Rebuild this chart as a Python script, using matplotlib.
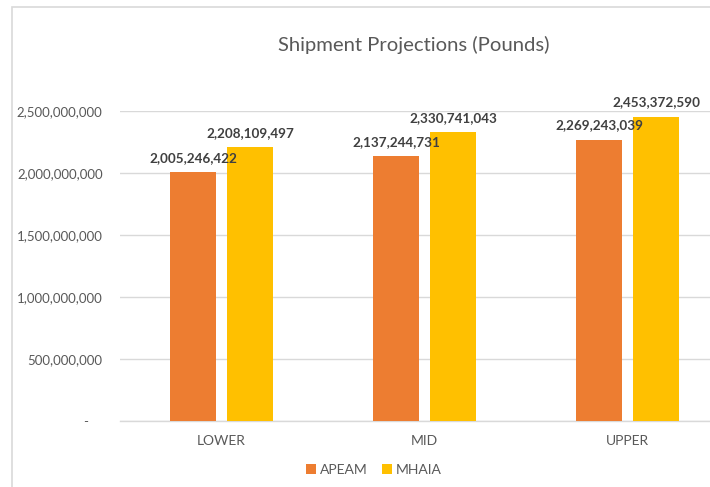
import matplotlib
matplotlib.use("Agg")
import matplotlib.pyplot as plt
from matplotlib.patches import Rectangle
from matplotlib.ticker import FuncFormatter

categories = ["LOWER", "MID", "UPPER"]
apeam = [2005246422, 2137244731, 2269243039]
mhaia = [2208109497, 2330741043, 2453372590]
series_names = ["APEAM", "MHAIA"]
yticks = [0, 500000000, 1000000000, 1500000000, 2000000000, 2500000000]

plt.rcParams['font.family'] = ['Lato', 'DejaVu Sans']

W, H = 710, 487
fig = plt.figure(figsize=(W / 100, H / 100), dpi=100)

# chart border (left & top visible)
fig.patches.append(Rectangle((12 / W, -0.1), 1.2, (H - 7) / H + 0.1,
                             transform=fig.transFigure, fill=False,
                             edgecolor="#d9d9d9", lw=1.2))

ax = fig.add_axes([120 / W, (H - 421) / H, 609 / W, 310 / H])

x = list(range(len(categories)))
bw = 46 / 203
off = 57 / 2 / 203
c1, c2 = "#ED7D31", "#FFC000"
b1 = ax.bar([i - off for i in x], apeam, width=bw, color=c1, label=series_names[0], zorder=3)
b2 = ax.bar([i + off for i in x], mhaia, width=bw, color=c2, label=series_names[1], zorder=3)

for bars in (b1, b2):
    for r in bars:
        v = r.get_height()
        ax.annotate(f"{v:,.0f}", (r.get_x() + r.get_width() / 2, v),
                    xytext=(0, 6), textcoords="offset points",
                    ha="center", va="bottom", fontsize=9.7, fontweight="bold",
                    color="#404040", annotation_clip=False)

ax.set_xlim(-0.5, 2.5)
ax.set_ylim(0, 2500000000)
ax.set_yticks(yticks)
ax.yaxis.set_major_formatter(FuncFormatter(lambda v, p: "-    " if v == 0 else f"{v:,.0f}"))
ax.set_xticks(x)
ax.set_xticklabels(categories)
ax.tick_params(axis="both", length=0, colors="#595959", labelsize=9.5)
ax.tick_params(axis="y", pad=12.5)
ax.tick_params(axis="x", pad=10, labelsize=10)
ax.grid(axis="y", color="#d9d9d9", lw=1, zorder=0)
for s in ("top", "right", "left"):
    ax.spines[s].set_visible(False)
ax.spines["bottom"].set_color("#d9d9d9")
ax.spines["bottom"].set_linewidth(1)

fig.text(413.5 / W, 1 - 45 / H, "Shipment Projections (Pounds)", ha="center", va="center",
         fontsize=14.6, color="#595959")

fig.legend(handles=[b1, b2], labels=series_names, loc="center",
           bbox_to_anchor=(374 / W, 1 - 470 / H), ncol=2, frameon=False,
           fontsize=10, labelcolor="#595959", handlelength=0.7, handleheight=0.7,
           handletextpad=0.3, columnspacing=1.0)

fig.savefig("out.png", dpi=100)
